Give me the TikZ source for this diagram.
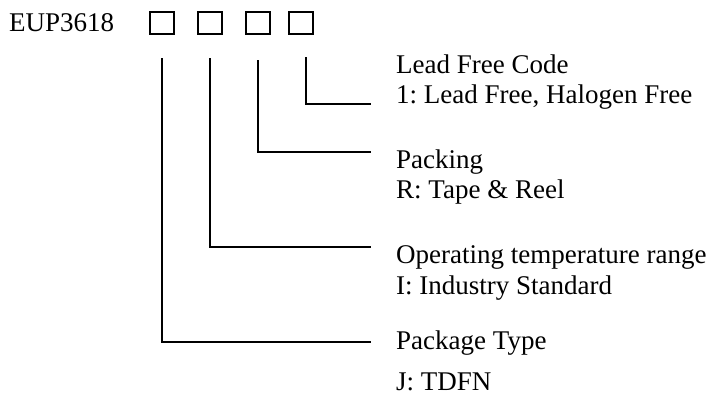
\documentclass[tikz,border=0pt]{standalone}
\usepackage{fontspec}
\setmainfont{Liberation Serif}
\begin{document}
\begin{tikzpicture}[x=1pt,y=-1pt,
  txt/.style={anchor=base west,inner sep=0pt,font=\fontsize{27}{32}\selectfont},
  cbox/.style={draw,line width=1.4pt,minimum width=24pt,minimum height=22pt,inner sep=0pt},
  conn/.style={line width=1.5pt}]
\useasboundingbox (0,0) rectangle (720,397);
\node[txt] (code) at (9,31) {EUP3618};
\node[cbox] (b1) at (162,23) {};
\node[cbox] (b2) at (210,23) {};
\node[cbox] (b3) at (258,23) {};
\node[cbox] (b4) at (301,23) {};
\coordinate (s1) at (162,58);
\coordinate (s2) at (210,58);
\coordinate (s3) at (258,60);
\coordinate (s4) at (306,57);
\coordinate (e1) at (371,342);
\coordinate (e2) at (371,247);
\coordinate (e3) at (371,152);
\coordinate (e4) at (371,104);
\draw[conn] (s1) |- (e1);
\draw[conn] (s2) |- (e2);
\draw[conn] (s3) |- (e3);
\draw[conn] (s4) |- (e4);
\node[txt] (l4a) at (396,73) {Lead Free Code};
\node[txt] (l4b) at (396,103) {1:~Lead Free, Halogen Free};
\node[txt] (l3a) at (396,168) {Packing};
\node[txt] (l3b) at (396,198) {R: Tape \& Reel};
\node[txt] (l2a) at (396,263) {Operating temperature range};
\node[txt] (l2b) at (396,294) {I: Industry Standard};
\node[txt] (l1a) at (396,349) {Package Type};
\node[txt] (l1b) at (396,390) {J: TDFN};
\end{tikzpicture}
\end{document}
